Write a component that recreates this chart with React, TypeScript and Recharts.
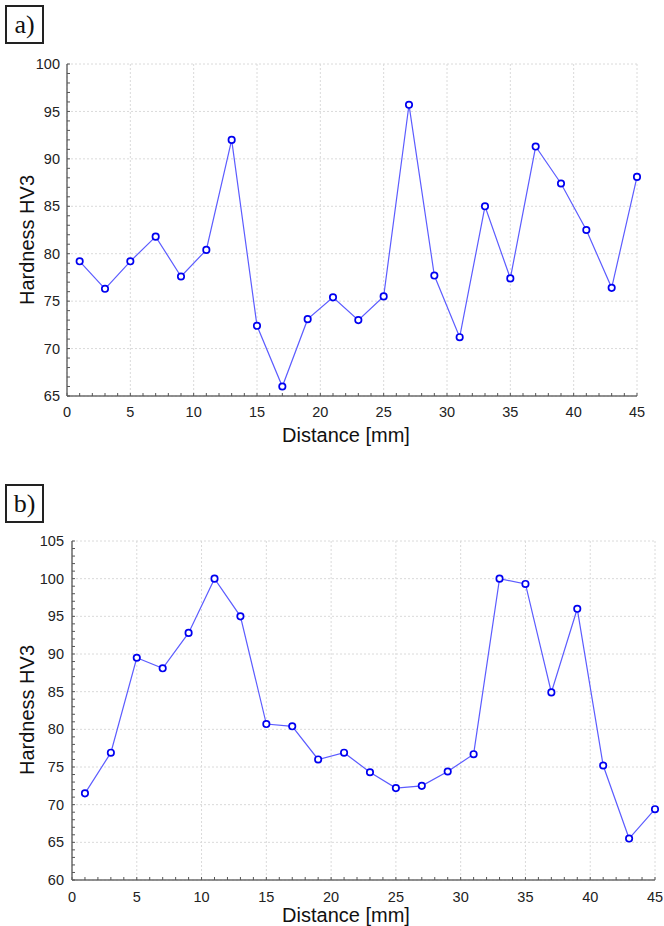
import { CartesianGrid, Label, Line, LineChart, XAxis, YAxis } from "recharts";

const DISTANCE = [1, 3, 5, 7, 9, 11, 13, 15, 17, 19, 21, 23, 25, 27, 29, 31, 33, 35, 37, 39, 41, 43, 45];

const HARDNESS_A = [
  79.2, 76.3, 79.2, 81.8, 77.6, 80.4, 92.0, 72.4, 66.0, 73.1, 75.4, 73.0,
  75.5, 95.7, 77.7, 71.2, 85.0, 77.4, 91.3, 87.4, 82.5, 76.4, 88.1,
];

const HARDNESS_B = [
  71.5, 76.9, 89.5, 88.1, 92.8, 100.0, 95.0, 80.7, 80.4, 76.0, 76.9, 74.3,
  72.2, 72.5, 74.4, 76.7, 100.0, 99.3, 84.9, 96.0, 75.2, 65.5, 69.4,
];

const X_TICKS = [0, 5, 10, 15, 20, 25, 30, 35, 40, 45];
const Y_TICKS_A = [65, 70, 75, 80, 85, 90, 95, 100];
const Y_TICKS_B = [60, 65, 70, 75, 80, 85, 90, 95, 100, 105];

const range = (lo: number, hi: number) => {
  const out: number[] = [];
  for (let v = lo; v <= hi; v++) out.push(v);
  return out;
};

const FONT = "'Liberation Sans', Arial, sans-serif";
const FRAME = { stroke: "#6b6b6b", strokeWidth: 1.5 };
const TICK_LINE = { stroke: "#555" };
const TICK_TEXT = { fontSize: 14.5, fill: "#222", fontFamily: FONT };
const major = (v: number) => (v % 5 === 0 ? String(v) : "");

type ChartProps = {
  values: number[];
  yTicks: number[];
  height: number;
  marginTop: number;
  marginRight: number;
  marginBottom: number;
  yWidth: number;
  xHeight: number;
  xMargin: number;
  yMargin: number;
  yLabelPos: [number, number];
  xLabelPos: [number, number];
};

function HardnessChart(p: ChartProps) {
  const data = DISTANCE.map((d, i) => ({ d, v: p.values[i] }));
  const yDomain: [number, number] = [p.yTicks[0], p.yTicks[p.yTicks.length - 1]];
  const xMinor = range(0, 45);
  const yMinor = range(yDomain[0], yDomain[1]);

  return (
    <LineChart
      width={664}
      height={p.height}
      data={data}
      margin={{ top: p.marginTop, right: p.marginRight, bottom: p.marginBottom, left: 0 }}
    >
      <CartesianGrid
        xAxisId="main"
        yAxisId="main"
        stroke="#dadada"
        strokeDasharray="2 2"
        horizontalValues={p.yTicks}
        verticalValues={X_TICKS}
      />
      <XAxis
        xAxisId="main"
        dataKey="d"
        type="number"
        domain={[0, 45]}
        ticks={xMinor}
        interval={0}
        tickFormatter={major}
        height={p.xHeight}
        axisLine={FRAME}
        tickLine={TICK_LINE}
        tickSize={-3}
        tickMargin={p.xMargin}
        tick={TICK_TEXT}
      >
        <Label
          content={() => (
            <text
              x={p.xLabelPos[0]}
              y={p.xLabelPos[1]}
              textAnchor="middle"
              dominantBaseline="central"
              fontSize={20}
              fill="#111"
              fontFamily={FONT}
            >
              Distance [mm]
            </text>
          )}
        />
      </XAxis>
      <XAxis
        xAxisId="top"
        orientation="top"
        type="number"
        domain={[0, 45]}
        allowDataOverflow
        ticks={xMinor}
        interval={0}
        height={0}
        axisLine={FRAME}
        tickLine={TICK_LINE}
        tickSize={-3}
        tick={false}
      />
      <YAxis
        yAxisId="main"
        type="number"
        domain={yDomain}
        ticks={yMinor}
        interval={0}
        tickFormatter={major}
        width={p.yWidth}
        axisLine={FRAME}
        tickLine={TICK_LINE}
        tickSize={-3}
        tickMargin={p.yMargin}
        tick={TICK_TEXT}
      >
        <Label
          content={() => (
            <text
              x={p.yLabelPos[0]}
              y={p.yLabelPos[1]}
              transform={`rotate(-90 ${p.yLabelPos[0]} ${p.yLabelPos[1]})`}
              textAnchor="middle"
              dominantBaseline="central"
              fontSize={20}
              fill="#111"
              fontFamily={FONT}
            >
              Hardness HV3
            </text>
          )}
        />
      </YAxis>
      <YAxis
        yAxisId="right"
        orientation="right"
        type="number"
        domain={yDomain}
        allowDataOverflow
        ticks={yMinor}
        interval={0}
        width={0}
        axisLine={FRAME}
        tickLine={TICK_LINE}
        tickSize={-3}
        tick={false}
      />
      <Line
        xAxisId="main"
        yAxisId="main"
        type="linear"
        dataKey="v"
        stroke="#5c5cff"
        strokeWidth={1.2}
        dot={{ r: 3.2, stroke: "#0000f0", strokeWidth: 1.7, fill: "#fff" }}
        isAnimationActive={false}
      />
    </LineChart>
  );
}

function PanelTag({ text, top }: { text: string; top: number }) {
  return (
    <div
      style={{
        position: "absolute",
        left: 5,
        top,
        width: 35,
        height: 35,
        border: "2px solid #222",
        fontFamily: "'Liberation Serif', 'Times New Roman', serif",
        fontSize: 26,
        lineHeight: "35px",
        textAlign: "center",
        color: "#111",
      }}
    >
      {text}
    </div>
  );
}

export default function App() {
  return (
    <div style={{ position: "absolute", left: 0, top: 0, width: 664, height: 926, background: "#fff" }}>
      <div style={{ position: "absolute", left: 0, top: 0 }}>
        <HardnessChart
          values={HARDNESS_A}
          yTicks={Y_TICKS_A}
          height={464}
          marginTop={64}
          marginRight={27}
          marginBottom={24}
          yWidth={67}
          xHeight={44}
          xMargin={14}
          yMargin={10}
          yLabelPos={[27, 240]}
          xLabelPos={[346, 435]}
        />
      </div>
      <div style={{ position: "absolute", left: 0, top: 470 }}>
        <HardnessChart
          values={HARDNESS_B}
          yTicks={Y_TICKS_B}
          height={456}
          marginTop={71}
          marginRight={9}
          marginBottom={0}
          yWidth={72}
          xHeight={46}
          xMargin={15}
          yMargin={11}
          yLabelPos={[27, 240]}
          xLabelPos={[346, 445]}
        />
      </div>
      <PanelTag text="a)" top={5} />
      <PanelTag text="b)" top={484} />
    </div>
  );
}
